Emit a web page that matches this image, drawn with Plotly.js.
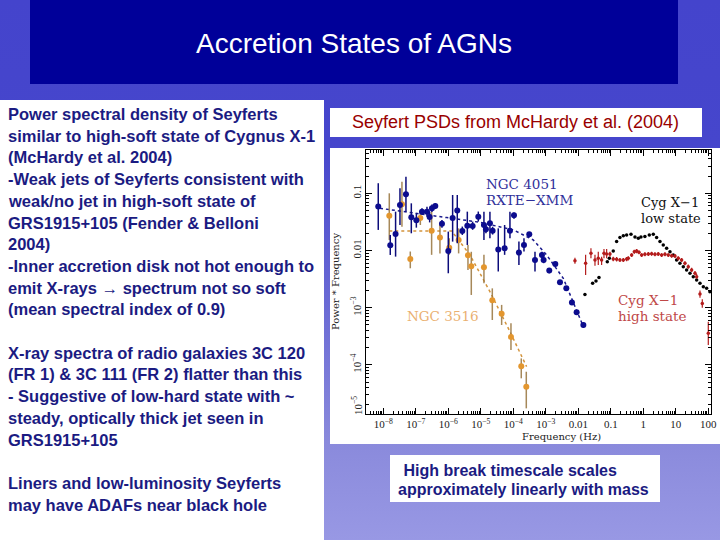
<!DOCTYPE html>
<html>
<head>
<meta charset="utf-8">
<script src="https://cdn.plot.ly/plotly-3.0.1.min.js"></script>
<style>
  html, body { margin: 0; padding: 0; }
  #slide { width: 720px; height: 540px;
    background: linear-gradient(to bottom, #4444cc 0%, #4646cc 27%, #8a8adc 82%, #9898e4 100%); }
</style>
</head>
<body>
<div id="slide"></div>
<script>
// ---------------- data ----------------
// NGC 4051 (RXTE-XMM) PSD points
const n4051Freq = [7.0e-9, 1.64e-8, 2.39e-8, 3.26e-8, 4.98e-8, 7.28e-8, 1.04e-7, 1.55e-7, 2.21e-7, 2.67e-7, 3.14e-7, 3.98e-7, 6.38e-7, 1.0e-6, 1.36e-6, 1.89e-6, 2.70e-6, 3.85e-6, 5.61e-6, 8.38e-6, 1.25e-5, 1.44e-5, 1.91e-5, 2.31e-5, 3.45e-5, 5.41e-5, 7.89e-5, 1.05e-4, 1.49e-4, 2.13e-4, 3.10e-4, 4.65e-4, 7.62e-4, 8.57e-4, 1.28e-3, 1.96e-3, 2.73e-3, 4.28e-3, 6.38e-3, 8.89e-3, 1.43e-2];
const n4051Power = [0.0585, 0.0123, 0.0195, 0.0625, 0.096, 0.038, 0.0337, 0.0478, 0.0478, 0.0385, 0.0547, 0.0601, 0.0295, 0.0098, 0.0371, 0.0498, 0.0219, 0.0272, 0.0269, 0.0391, 0.0279, 0.0235, 0.0299, 0.0222, 0.0104, 0.0109, 0.0222, 0.0412, 0.0092, 0.0125, 0.0192, 0.00682, 0.00836, 0.00682, 0.00445, 0.00582, 0.00278, 0.00218, 0.00123, 0.00083, 0.000499];
const n4051Upper = [0.150, 0.0187, 0.0478, 0.122, 0.195, 0.0668, 0.0447, 0.055, 0.058, 0.048, 0.064, 0.067, 0.034, 0.0214, 0.0935, 0.0935, 0.0262, 0.0478, 0.032, 0.048, 0.0478, 0.028, 0.0478, 0.026, 0.0244, 0.0279, 0.0478, 0.046, 0.0143, 0.0163, 0.021, 0.0095, 0.0095, 0.0078, 0.0049, 0.0063, 0.0030, 0.0024, 0.00135, 0.00091, 0.00055];
const n4051Lower = [0.0229, 0.00836, 0.00782, 0.0279, 0.0478, 0.020, 0.0251, 0.042, 0.039, 0.031, 0.047, 0.053, 0.025, 0.0040, 0.0143, 0.0134, 0.0187, 0.0125, 0.023, 0.032, 0.0153, 0.020, 0.0163, 0.019, 0.0043, 0.0084, 0.0163, 0.036, 0.0056, 0.0096, 0.017, 0.0043, 0.0073, 0.0060, 0.0040, 0.0052, 0.0026, 0.0020, 0.00112, 0.00076, 0.00045];
// NGC 4051 model (dotted)
const n4051ModelFreq = [7.9e-9, 8.4e-8, 8.9e-7, 9.4e-6, 1.0e-4, 4.1e-4, 1.06e-3, 3.45e-3, 1.43e-2];
const n4051ModelPower = [0.0547, 0.0447, 0.0376, 0.0311, 0.0229, 0.0153, 0.00836, 0.00327, 0.000467];

// NGC 3516 PSD points
const n3516Freq = [1.53e-8, 3.75e-8, 6.77e-8, 1.38e-7, 3.07e-7, 5.54e-7, 1.07e-6, 2.08e-6, 4.03e-6, 5.1e-6, 1.25e-5, 2.26e-5, 4.38e-5, 8.48e-5, 1.76e-4, 2.51e-4];
const n3516Power = [0.0407, 0.0642, 0.00711, 0.0371, 0.0222, 0.0168, 0.0112, 0.0153, 0.00824, 0.00530, 0.00508, 0.00135, 0.000787, 0.000308, 9.45e-5, 4.17e-5];
const n3516Upper = [0.1, 0.160, 0.0096, 0.0478, 0.0478, 0.0279, 0.0163, 0.0244, 0.0125, 0.0095, 0.0084, 0.00218, 0.00112, 0.000533, 0.00013, 7.6e-5];
const n3516Lower = [0.0153, 0.0261, 0.00489, 0.0279, 0.0084, 0.0089, 0.0084, 0.0089, 0.00457, 0.00167, 0.00267, 0.00061, 0.000499, 0.000182, 5.83e-5, 1.74e-5];
// NGC 3516 model (dotted)
const n3516ModelFreq = [1.53e-8, 1.27e-6, 4.64e-6, 1.91e-5, 7.89e-5, 2.57e-4];
const n3516ModelPower = [0.0219, 0.0219, 0.00836, 0.00191, 0.000382, 9.33e-5];

// Cyg X-1 low state
const cygLowFreq = [0.0160, 0.0276, 0.035, 0.0433, 0.078, 0.090, 0.119, 0.151, 0.191, 0.243, 0.307, 0.418, 0.555, 0.702, 0.847, 1.12, 1.53, 2.03, 2.57, 3.26, 4.12, 5.22, 6.62, 8.38, 10.6, 13.4, 17.0, 21.5, 27.3, 34.5, 43.8, 55.5, 70.2, 88.9, 112];
const cygLowPower = [0.00171, 0.00267, 0.00293, 0.00336, 0.00638, 0.00731, 0.00982, 0.0143, 0.0168, 0.0182, 0.0187, 0.0192, 0.0173, 0.0163, 0.0173, 0.0175, 0.0187, 0.0192, 0.0168, 0.0143, 0.0125, 0.0109, 0.00955, 0.00836, 0.00682, 0.00597, 0.00522, 0.00457, 0.00399, 0.00349, 0.00305, 0.00267, 0.00233, 0.00218, 0.00191];

// Cyg X-1 high state
const cygHighFreq = [0.00789, 0.0168, 0.0245, 0.0326, 0.0412, 0.0522, 0.0617, 0.0745, 0.0942, 0.119, 0.151, 0.191, 0.243, 0.307, 0.345, 0.438, 0.528, 0.623, 0.736, 0.889, 1.12, 1.43, 1.80, 2.28, 2.89, 3.66, 4.64, 5.88, 7.45, 9.43, 11.9, 15.1, 19.1, 24.2, 30.7, 38.9, 43.8, 55.5, 65.3, 100];
const cygHighPower = [0.00665, 0.00597, 0.00893, 0.00682, 0.00731, 0.00682, 0.00893, 0.00869, 0.00869, 0.00711, 0.00702, 0.00682, 0.00682, 0.00711, 0.00731, 0.00836, 0.00955, 0.00982, 0.00930, 0.00836, 0.00859, 0.00869, 0.00881, 0.00859, 0.00869, 0.00836, 0.00859, 0.00836, 0.00813, 0.00802, 0.00731, 0.00682, 0.00597, 0.00522, 0.00457, 0.00399, 0.00349, 0.00174, 0.00119, 0.000356];
const cygHighUpper = [0.0075, 0.0084, 0.0109, 0.0084, 0.0095, 0.0078, 0.01064, 0.01064, 0.0095, 0.0078, 0.0077, 0.0074, 0.0074, 0.0077, 0.0079, 0.0090, 0.0103, 0.0106, 0.0100, 0.0090, 0.0093, 0.0094, 0.0095, 0.0093, 0.0094, 0.0090, 0.0093, 0.0090, 0.0088, 0.0087, 0.0079, 0.0074, 0.0065, 0.0057, 0.0050, 0.0044, 0.0039, 0.0020, 0.0014, 0.00057];
const cygHighLower = [0.00589, 0.00373, 0.00731, 0.00543, 0.00558, 0.00558, 0.00731, 0.00731, 0.0078, 0.0065, 0.0064, 0.0063, 0.0063, 0.0065, 0.0067, 0.0077, 0.0088, 0.0090, 0.0086, 0.0077, 0.0079, 0.0080, 0.0081, 0.0079, 0.0080, 0.0077, 0.0079, 0.0077, 0.0075, 0.0074, 0.0067, 0.0063, 0.0055, 0.0048, 0.0042, 0.0037, 0.0032, 0.0015, 0.0010, 0.000223];

// tick labels
const xTickVals = [1e-8, 1e-7, 1e-6, 1e-5, 1e-4, 1e-3, 0.01, 0.1, 1, 10, 100];
const xTickText = ['10<sup>\u22128</sup>', '10<sup>\u22127</sup>', '10<sup>\u22126</sup>', '10<sup>\u22125</sup>', '10<sup>\u22124</sup>', '10<sup>\u22123</sup>', '0.01', '0.1', '1', '10', '100'];
const yTickVals = [1e-4, 1e-3, 0.01, 0.1];
const yTickText = ['10<sup>\u22124</sup>', '10<sup>\u22123</sup>', '0.01', '0.1'];
const yBottomLabel = '10<sup>\u22125</sup>';

// slide text
const slideTitle = 'Accretion States of AGNs';
const boxTitle = 'Seyfert PSDs from McHardy et al. (2004)';
const leftLines = [
  'Power spectral density of Seyferts',
  'similar to high-soft state of Cygnus X-1',
  '(McHardy et al. 2004)',
  '-Weak jets of Seyferts consistent with',
  'weak/no jet in high-soft state of',
  'GRS1915+105 (Fender &amp; Belloni',
  '2004)',
  '-Inner accretion disk not hot enough to',
  'emit X-rays \u2192 spectrum not so soft',
  '(mean spectral index of 0.9)',
  '',
  'X-ray spectra of radio galaxies 3C 120',
  '(FR 1) &amp; 3C 111 (FR 2) flatter than this',
  '- Suggestive of low-hard state with ~',
  'steady, optically thick jet seen in',
  'GRS1915+105',
  '',
  'Liners and low-luminosity Seyferts',
  'may have ADAFs near black hole'
];
const bottomLines = [' High break timescale scales', 'approximately linearly with mass'];

// ---------------- layout helpers (page pixels -> paper) ----------------
const W = 720, H = 540, ML = 366, MR = 9, MT = 150, MB = 126;
const PW = W - ML - MR, PH = H - MT - MB;
const px = x => (x - ML) / PW;
const py = y => 1 - (y - MT) / PH;
const diff = (a, b) => a.map((v, i) => v - b[i]);

function rect(x0, y0, x1, y1, color) {
  return {type: 'rect', xref: 'paper', yref: 'paper', x0: px(x0), x1: px(x1), y0: py(y1), y1: py(y0),
          fillcolor: color, line: {width: 0}, layer: 'below'};
}
function txt(text, x, y, opts) {
  return Object.assign({text: text, xref: 'paper', yref: 'paper', x: px(x), y: py(y), showarrow: false,
    xanchor: 'left', yanchor: 'middle'}, opts);
}

const navy = '#1b1b82';
const sans = 'Liberation Sans, Arial, sans-serif';
const serif = 'DejaVu Serif, serif';

const annotations = [];
annotations.push(txt(slideTitle, 354, 43, {xanchor: 'center', font: {family: sans, size: 28, color: '#ffffff'}}));
annotations.push(txt(boxTitle, 515, 122.5, {xanchor: 'center', font: {family: sans, size: 18, color: '#990000'}}));
leftLines.forEach((t, i) => {
  if (t) annotations.push(txt('<b>' + t + '</b>', 6, 114 + i * 21.7, {font: {family: sans, size: 16.5, color: navy}}));
});
annotations.push(txt('<b>' + bottomLines[0] + '</b>', 397, 470, {font: {family: sans, size: 16, color: navy}}));
annotations.push(txt('<b>' + bottomLines[1] + '</b>', 396, 489, {font: {family: sans, size: 16, color: navy}}));
// chart labels
annotations.push(txt('NGC 4051', 484, 184, {font: {family: serif, size: 13.5, color: '#30309a'}}));
annotations.push(txt('RXTE\u2212XMM', 484, 200, {font: {family: serif, size: 13.5, color: '#30309a'}}));
annotations.push(txt('Cyg X\u22121', 639, 202, {font: {family: serif, size: 13, color: '#111111'}}));
annotations.push(txt('low state', 639, 218, {font: {family: serif, size: 13, color: '#111111'}}));
annotations.push(txt('Cyg X\u22121', 616, 300, {font: {family: serif, size: 13.5, color: '#c04848'}}));
annotations.push(txt('high state', 616, 316, {font: {family: serif, size: 13.5, color: '#c04848'}}));
annotations.push(txt('NGC 3516', 405, 316, {font: {family: serif, size: 13.5, color: '#eab070'}}));
// bottom y tick label (sits at the lower frame edge)
annotations.push(txt(yBottomLabel, 357, 406, {xanchor: 'center', textangle: -90, font: {family: 'Liberation Serif, serif', size: 11, color: '#222'}}));
// axis titles
annotations.push(txt('Frequency (Hz)', 561, 436, {xanchor: 'center', font: {family: serif, size: 10, color: '#222'}}));
annotations.push(txt('Power * Frequency', 335, 282, {xanchor: 'center', textangle: -90, font: {family: serif, size: 10, color: '#222'}}));

const shapes = [
  rect(30, 0, 678, 84, '#000099'),
  rect(0, 100, 324, 540, '#ffffff'),
  rect(330, 108, 702, 137, '#ffffff'),
  rect(330, 148, 720, 444, '#ffffff'),
  rect(390, 455, 660, 502, '#ffffff')
];

const traces = [
  {x: n3516ModelFreq, y: n3516ModelPower, mode: 'lines', line: {color: '#d4943c', dash: 'dot', width: 1.5}},
  {x: n4051ModelFreq, y: n4051ModelPower, mode: 'lines', line: {color: '#1a1a8c', dash: 'dot', width: 1.5}},
  {x: n3516Freq, y: n3516Power, mode: 'markers',
   marker: {color: '#e3962e', size: 6},
   error_y: {type: 'data', symmetric: false, array: diff(n3516Upper, n3516Power), arrayminus: diff(n3516Power, n3516Lower),
             color: 'rgba(150,115,60,0.85)', thickness: 1.5, width: 0}},
  {x: n4051Freq, y: n4051Power, mode: 'markers',
   marker: {color: '#0c0c8e', size: 6},
   error_y: {type: 'data', symmetric: false, array: diff(n4051Upper, n4051Power), arrayminus: diff(n4051Power, n4051Lower),
             color: '#0c0c7a', thickness: 1.5, width: 0}},
  {x: cygLowFreq, y: cygLowPower, mode: 'markers', marker: {color: '#000000', size: 3.5}},
  {x: cygHighFreq, y: cygHighPower, mode: 'markers',
   marker: {color: '#b41c1c', size: 3.5},
   error_y: {type: 'data', symmetric: false, array: diff(cygHighUpper, cygHighPower), arrayminus: diff(cygHighPower, cygHighLower),
             color: '#b41c1c', thickness: 1.2, width: 0}}
];

const axisCommon = {
  type: 'log', tickmode: 'array', ticks: 'inside', ticklen: 6, tickcolor: '#000', tickwidth: 1,
  showline: true, linecolor: '#000', linewidth: 1, mirror: 'allticks', showgrid: false, zeroline: false,
  tickfont: {family: 'Liberation Serif, serif', size: 11, color: '#222'},
  minor: {ticks: 'inside', ticklen: 3, tickcolor: '#000', dtick: 'D1', showgrid: false}
};

const layout = {
  width: W, height: H,
  margin: {l: ML, r: MR, t: MT, b: MB},
  paper_bgcolor: 'rgba(0,0,0,0)', plot_bgcolor: '#ffffff',
  showlegend: false, hovermode: false,
  xaxis: Object.assign({}, axisCommon, {range: [-8.532, 2.083], tickvals: xTickVals, ticktext: xTickText}),
  yaxis: Object.assign({}, axisCommon, {range: [-4.858, -0.243], tickvals: yTickVals, ticktext: yTickText, tickangle: -90}),
  shapes: shapes,
  annotations: annotations
};

Plotly.newPlot('slide', traces, layout, {staticPlot: true, displayModeBar: false});
</script>
</body>
</html>
